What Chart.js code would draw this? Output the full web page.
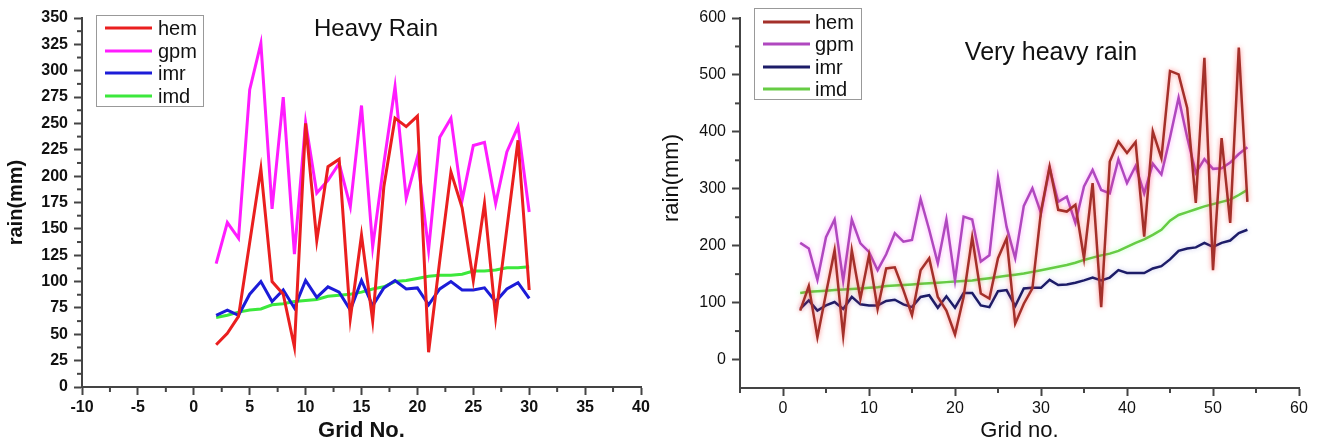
<!DOCTYPE html>
<html><head><meta charset="utf-8">
<script src="https://cdn.jsdelivr.net/npm/chart.js@4.4.0/dist/chart.umd.min.js"></script>
<style>
html,body{margin:0;padding:0;background:#fff;width:1321px;height:444px;overflow:hidden}
#c1{position:absolute;left:0;top:0}
#c2{position:absolute;left:660px;top:0}
</style></head><body>
<canvas id="c1" width="655" height="444"></canvas>
<canvas id="c2" width="661" height="444"></canvas>
<script>
// ---------- Heavy Rain (left) ----------
const gridL = [2,3,4,5,6,7,8,9,10,11,12,13,14,15,16,17,18,19,20,21,22,23,24,25,26,27,28,29,30];
const hemL = [40,51,67,137,207,100,88,38,250,139,209,216,65,144,63,190,255,247,257,33,120,204,170,101,174,66,150,234,92];
const gpmL = [117,156,141,282,326,169,275,126,251,184,196,212,171,267,133,212,285,179,218,130,237,255,177,229,232,174,223,247,166];
const imrL = [68,73,68,88,100,81,92,75,101,85,95,90,73,101,77,94,101,93,94,78,93,100,92,92,94,81,93,99,84];
const imdL = [66,68,71,73,74,78,79,81,82,83,86,87,88,90,93,95,100,101,103,105,106,106,107,110,110,111,113,113,114];
const xTicksL = [-10,-5,0,5,10,15,20,25,30,35,40];
const yTicksL = [0,25,50,75,100,125,150,175,200,225,250,275,300,325,350];

// ---------- Very heavy rain (right) ----------
const gridR = [2,3,4,5,6,7,8,9,10,11,12,13,14,15,16,17,18,19,20,21,22,23,24,25,26,27,28,29,30,31,32,33,34,35,36,37,38,39,40,41,42,43,44,45,46,47,48,49,50,51,52,53,54];
const hemR = [86,129,39,116,192,42,192,107,183,89,160,162,122,78,157,178,110,86,44,110,215,116,107,178,213,63,98,125,260,339,263,260,272,178,310,92,348,383,363,382,216,401,354,507,501,442,275,530,157,389,240,548,277];
const gpmR = [205,195,140,215,246,138,246,204,189,157,185,222,207,210,282,228,169,246,139,251,246,172,183,320,233,178,270,301,257,336,277,286,240,304,333,298,292,352,310,340,292,344,325,390,460,390,328,352,335,336,346,361,373];
const imrR = [89,104,86,95,101,89,110,97,95,95,103,105,97,92,110,113,91,111,91,117,117,95,92,120,122,94,125,126,126,140,131,132,135,139,144,139,144,157,152,152,152,160,164,176,191,195,197,205,198,205,209,222,228];
const imdR = [117,119,120,121,122,123,124,125,126,127,129,130,131,132,133,134,135,136,137,138,139,141,143,145,147,149,151,154,157,160,163,166,170,175,179,183,186,191,198,205,211,219,228,244,254,259,264,269,273,277,281,289,298];
const xTicksR = [0,10,20,30,40,50,60];
const yTicksR = [0,100,200,300,400,500,600];

const FONT = "'Liberation Sans', Arial, sans-serif";
const AX = '#444';

const decor = {
  id: 'decor',
  beforeDatasetDraw(chart, args) {
    const ds = chart.data.datasets[args.index];
    if (ds.glow) { chart.ctx.save(); chart.ctx.shadowColor = ds.glow; chart.ctx.shadowBlur = 5; }
  },
  afterDatasetDraw(chart, args) {
    const ds = chart.data.datasets[args.index];
    if (ds.glow) chart.ctx.restore();
  },
  afterDraw(chart, args, o) {
    const ctx = chart.ctx;
    const xs = chart.scales.x, ys = chart.scales.y;
    ctx.save();
    // minor ticks
    ctx.strokeStyle = AX; ctx.lineWidth = 2;
    const xt = xs.ticks.map(t => t.value), yt = ys.ticks.map(t => t.value);
    const xStep = xt[1] - xt[0], yStep = yt[1] - yt[0];
    for (let v = xs.min; v <= xs.max + 1e-9; v += xStep / 2) {
      if (xt.some(t => Math.abs(t - v) < 1e-9)) continue;
      const p = xs.getPixelForValue(v);
      ctx.beginPath(); ctx.moveTo(p, xs.top); ctx.lineTo(p, xs.top + 5); ctx.stroke();
    }
    for (let v = yt[0] + yStep / 2; v < ys.max; v += yStep) {
      const p = ys.getPixelForValue(v);
      ctx.beginPath(); ctx.moveTo(ys.right - 5, p); ctx.lineTo(ys.right, p); ctx.stroke();
    }
    if (yt[0] > ys.min) {
      const p = ys.getPixelForValue(yt[0] - yStep / 2);
      if (p <= ys.bottom - 1) { ctx.beginPath(); ctx.moveTo(ys.right - 5, p); ctx.lineTo(ys.right, p); ctx.stroke(); }
    }
    // title
    ctx.fillStyle = '#111';
    ctx.font = o.titleFont;
    ctx.textAlign = 'center'; ctx.textBaseline = 'middle';
    ctx.fillText(o.title, o.titleX, o.titleY);
    // extra y title
    if (o.yTitle) {
      ctx.save();
      ctx.translate(o.yTitle.x, o.yTitle.y); ctx.rotate(-Math.PI / 2);
      ctx.font = o.yTitle.font; ctx.fillText(o.yTitle.text, 0, 0);
      ctx.restore();
    }
    // legend
    const L = o.legend;
    ctx.strokeStyle = '#999'; ctx.lineWidth = 1;
    ctx.strokeRect(L.x + 0.5, L.y + 0.5, L.w, L.h);
    ctx.font = L.font; ctx.textAlign = 'left'; ctx.textBaseline = 'middle';
    chart.data.datasets.forEach((ds, i) => {
      const y = L.rows[i];
      ctx.strokeStyle = ds.borderColor; ctx.lineWidth = 3;
      ctx.beginPath(); ctx.moveTo(L.x1, y); ctx.lineTo(L.x2, y); ctx.stroke();
      ctx.fillStyle = '#111';
      ctx.fillText(ds.label, L.tx, y + 1);
    });
    ctx.restore();
  }
};

function build(el, o) {
  return new Chart(el, {
    type: 'line',
    data: {
      datasets: o.series.map(s => ({
        label: s.label,
        data: o.grid.map((g, i) => ({ x: g, y: s.values[i] })),
        borderColor: s.color, borderWidth: o.lineWidth, glow: s.glow,
        pointRadius: 0, tension: 0, fill: false
      }))
    },
    options: {
      responsive: false, animation: false, devicePixelRatio: 1,
      layout: { padding: { left: 0, top: 18, right: o.padRight, bottom: 0 } },
      plugins: { legend: { display: false }, tooltip: { enabled: false }, decor: o.decor },
      scales: {
        x: {
          type: 'linear', min: o.xMin, max: o.xMax,
          afterBuildTicks: s => { s.ticks = o.xTicks.map(v => ({ value: v })); },
          afterFit: s => { s.height = o.xHeight; },
          grid: { drawOnChartArea: false, tickLength: 8, tickWidth: 2, tickColor: AX, color: AX },
          border: { display: true, color: AX, width: 2 },
          ticks: { font: o.tickFont, color: '#111', padding: 3, maxRotation: 0, autoSkip: false },
          title: { display: true, text: o.xTitle, font: o.xTitleFont, color: '#111', padding: 0 }
        },
        y: {
          type: 'linear', min: o.yMin, max: o.yMax,
          afterBuildTicks: s => { s.ticks = o.yTicks.map(v => ({ value: v })); },
          afterFit: s => { s.width = o.yWidth; },
          grid: { drawOnChartArea: false, tickLength: 8, tickWidth: 2, tickColor: AX, color: AX },
          border: { display: true, color: AX, width: 2 },
          ticks: { font: o.tickFont, color: '#111', padding: 6, autoSkip: false },
          title: o.yTitle ? { display: true, text: o.yTitle, font: o.yTitleFont, color: '#111', padding: { top: 4, bottom: 0 } } : { display: false }
        }
      }
    },
    plugins: [decor]
  });
}

build(document.getElementById('c1'), {
  grid: gridL, lineWidth: 3,
  series: [
    { label: 'hem', values: hemL, color: '#ea1f1f' },
    { label: 'gpm', values: gpmL, color: '#ff1cff' },
    { label: 'imr', values: imrL, color: '#1c1cd8' },
    { label: 'imd', values: imdL, color: '#3ce83c' }
  ],
  xMin: -10, xMax: 40, xTicks: xTicksL, yMin: 0, yMax: 350, yTicks: yTicksL,
  padRight: 14, xHeight: 57, yWidth: 82,
  tickFont: { family: FONT, size: 16, weight: 'bold' },
  xTitle: 'Grid No.', xTitleFont: { family: FONT, size: 22, weight: 'bold' },
  yTitle: 'rain(mm)', yTitleFont: { family: FONT, size: 20, weight: 'bold' },
  decor: {
    title: 'Heavy Rain', titleX: 376, titleY: 29, titleFont: "24px " + FONT,
    legend: { x: 96, y: 15, w: 107, h: 91, rows: [28, 51, 73, 96], x1: 105, x2: 152, tx: 158, font: "20px " + FONT }
  }
});

build(document.getElementById('c2'), {
  grid: gridR, lineWidth: 2.5,
  series: [
    { label: 'hem', values: hemR, color: '#a4302a', glow: 'rgba(255,60,60,0.6)' },
    { label: 'gpm', values: gpmR, color: '#b048bf', glow: 'rgba(255,80,255,0.5)' },
    { label: 'imr', values: imrR, color: '#1c1c68', glow: 'rgba(80,80,200,0.3)' },
    { label: 'imd', values: imdR, color: '#66cc44', glow: 'rgba(120,255,120,0.5)' }
  ],
  xMin: -5, xMax: 60, xTicks: xTicksR, yMin: -50, yMax: 600, yTicks: yTicksR,
  padRight: 22, xHeight: 56, yWidth: 80,
  tickFont: { family: FONT, size: 16, weight: 'normal' },
  xTitle: 'Grid no.', xTitleFont: { family: FONT, size: 22, weight: 'normal' },
  yTitle: null,
  decor: {
    title: 'Very heavy rain', titleX: 391, titleY: 53, titleFont: "25px " + FONT,
    yTitle: { text: 'rain(mm)', x: 12, y: 178, font: "22px " + FONT },
    legend: { x: 94, y: 8, w: 107, h: 91, rows: [22, 44, 67, 89], x1: 103, x2: 150, tx: 155, font: "20px " + FONT }
  }
});
</script>
</body></html>
